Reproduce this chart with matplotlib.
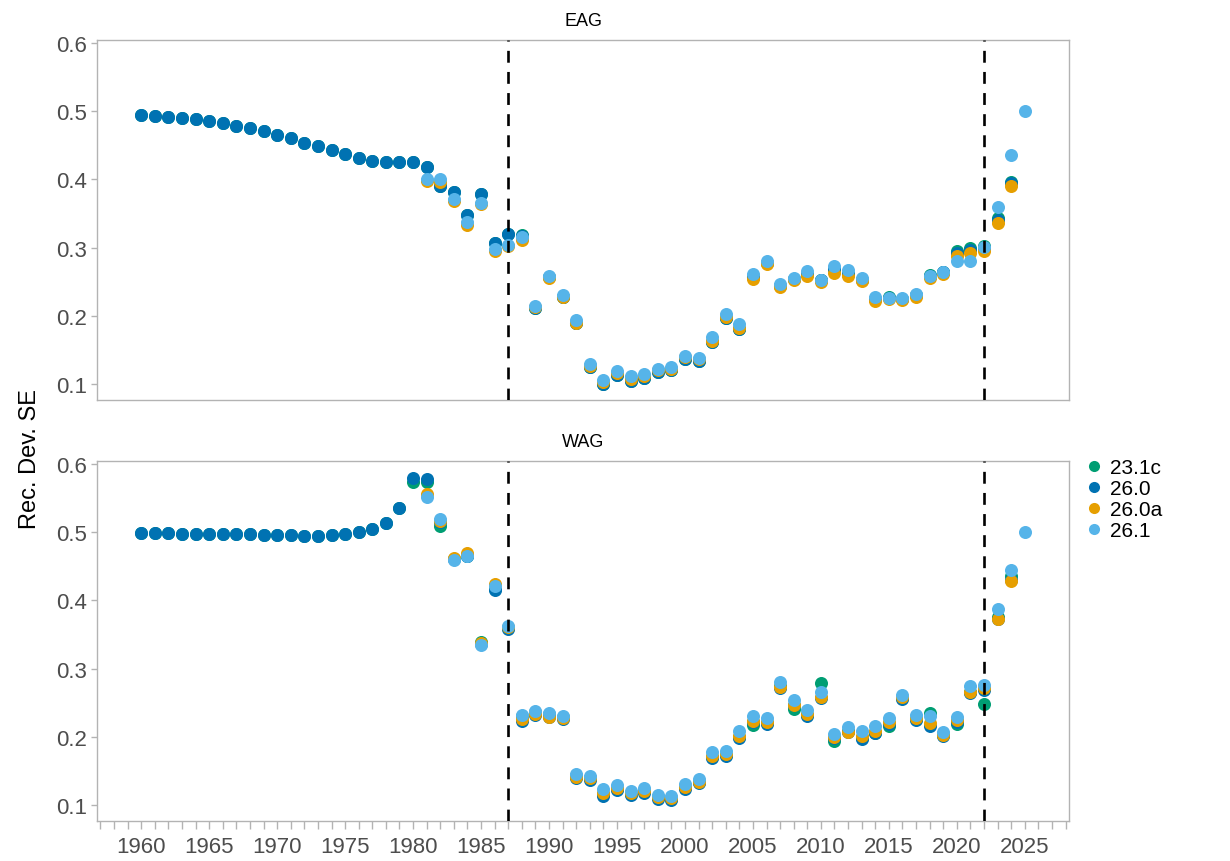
import numpy as np
import matplotlib
matplotlib.use("Agg")
import matplotlib.pyplot as plt
from matplotlib.lines import Line2D
from matplotlib.ticker import MultipleLocator

plt.rcParams['font.family'] = ['Liberation Sans', 'DejaVu Sans']

nan = np.nan
years = list(range(1960, 2026))

# ---------------- EAG ----------------
eag_early = [0.494, 0.493, 0.492, 0.4905, 0.488, 0.485, 0.482, 0.479, 0.475, 0.4705,
             0.465, 0.460, 0.454, 0.4485, 0.443, 0.437, 0.431, 0.4275, 0.425, 0.4255, 0.426]
# 1981 - 2025: 23.1c, 26.0, 26.0a, 26.1
eag_23_1c_late = [0.418, 0.391, 0.381, 0.348, 0.378, 0.307, 0.320, 0.3185, 0.212, 0.257,
                  0.228, 0.189, 0.125, 0.1005, 0.113, 0.105, 0.109, 0.1175, 0.120, 0.1366,
                  0.1335, 0.161, 0.1966, 0.180, 0.257, 0.278, 0.244, 0.254, 0.262, 0.252,
                  0.268, 0.262, 0.253, 0.224, 0.2275, 0.224, 0.230, 0.2595, 0.264, 0.2955,
                  0.299, 0.302, 0.343, 0.3958, nan]
eag_26_0_late = [0.418, 0.391, 0.381, 0.348, 0.378, 0.307, 0.320, 0.317, 0.2115, 0.257,
                 0.228, 0.189, 0.125, 0.1005, 0.113, 0.105, 0.109, 0.1175, 0.120, 0.1366,
                 0.1335, 0.161, 0.1966, 0.180, 0.257, 0.278, 0.244, 0.254, 0.262, 0.252,
                 0.268, 0.262, 0.253, 0.224, 0.226, 0.224, 0.230, 0.258, 0.264, 0.2925,
                 0.2965, 0.300, 0.341, 0.394, nan]
eag_26_0a_late = [0.398, 0.396, 0.368, 0.333, 0.364, 0.2955, 0.302, 0.3116, 0.2125, 0.256,
                  0.227, 0.190, 0.127, 0.103, 0.116, 0.108, 0.112, 0.120, 0.122, 0.139,
                  0.136, 0.163, 0.198, 0.1825, 0.254, 0.276, 0.2417, 0.253, 0.259, 0.250,
                  0.263, 0.258, 0.2515, 0.222, 0.224, 0.223, 0.2276, 0.256, 0.2615, 0.288,
                  0.292, 0.2955, 0.3356, 0.3908, nan]
eag_26_1_late = [0.400, 0.4006, 0.371, 0.337, 0.366, 0.298, 0.304, 0.315, 0.215, 0.259,
                 0.2305, 0.194, 0.1293, 0.1063, 0.1186, 0.111, 0.115, 0.122, 0.1245, 0.1415,
                 0.138, 0.1685, 0.2026, 0.188, 0.2613, 0.2808, 0.2466, 0.255, 0.2652, 0.253,
                 0.2735, 0.2676, 0.255, 0.2271, 0.226, 0.226, 0.232, 0.258, 0.2647, 0.2808,
                 0.2808, 0.3004, 0.360, 0.4358, 0.5007]

# ---------------- WAG ----------------
wag_early = [0.499, 0.499, 0.499, 0.498, 0.498, 0.498, 0.497, 0.497, 0.497, 0.496,
             0.496, 0.496, 0.495, 0.495, 0.496, 0.497, 0.500, 0.505, 0.514, 0.535]
# 1980 - 2025
wag_23_1c_late = [0.573, 0.573, 0.5095, 0.461, 0.465, 0.3394, 0.417, 0.360, 0.230, 0.236,
                  0.233, 0.229, 0.142, 0.139, 0.116, 0.124, 0.116, 0.120, 0.111, 0.109,
                  0.126, 0.134, 0.170, 0.174, 0.199, 0.2173, 0.220, 0.275, 0.2408, 0.232,
                  0.2785, 0.194, 0.208, 0.198, 0.205, 0.2163, 0.257, 0.226, 0.2349, 0.202,
                  0.2188, 0.265, 0.2481, 0.376, 0.4353, nan]
wag_26_0_late = [0.580, 0.578, 0.5145, 0.461, 0.465, 0.336, 0.4157, 0.358, 0.2236, 0.232,
                 0.229, 0.2255, 0.1393, 0.137, 0.1138, 0.1225, 0.114, 0.118, 0.109, 0.1075,
                 0.124, 0.132, 0.1685, 0.1725, 0.1977, 0.222, 0.2188, 0.272, 0.246, 0.231,
                 0.257, 0.198, 0.2066, 0.1968, 0.205, 0.219, 0.256, 0.2248, 0.2165, 0.201,
                 0.222, 0.264, 0.268, 0.373, 0.430, nan]
wag_26_0a_late = [nan, 0.556, 0.517, 0.462, 0.4695, 0.3375, 0.4245, 0.361, 0.226, 0.234,
                  0.229, 0.228, 0.141, 0.139, 0.117, 0.125, 0.117, 0.121, 0.112, 0.110,
                  0.127, 0.134, 0.172, 0.175, 0.2016, 0.2236, 0.2212, 0.2737, 0.247, 0.2335,
                  0.258, 0.199, 0.2067, 0.2007, 0.209, 0.221, 0.258, 0.228, 0.2198, 0.202,
                  0.224, 0.2653, 0.271, 0.3727, 0.428, nan]
wag_26_1_late = [nan, 0.552, 0.5194, 0.4597, 0.4656, 0.3346, 0.4206, 0.3629, 0.2324, 0.2383,
                 0.2349, 0.231, 0.1455, 0.143, 0.1235, 0.1298, 0.121, 0.125, 0.1151, 0.1137,
                 0.1308, 0.1381, 0.1773, 0.1797, 0.209, 0.231, 0.2271, 0.280, 0.254, 0.2398,
                 0.2653, 0.204, 0.2139, 0.209, 0.2163, 0.2271, 0.2613, 0.232, 0.230, 0.2066,
                 0.2286, 0.274, 0.2764, 0.3874, 0.445, 0.4999]

models = ['23.1c', '26.0', '26.0a', '26.1']
colors = ['#009E73', '#0072B2', '#E69F00', '#56B4E9']

eag = {
    '23.1c': eag_early + eag_23_1c_late,
    '26.0': eag_early + eag_26_0_late,
    '26.0a': [nan] * 21 + eag_26_0a_late,
    '26.1': [nan] * 21 + eag_26_1_late,
}
wag = {
    '23.1c': wag_early + wag_23_1c_late,
    '26.0': wag_early + wag_26_0_late,
    '26.0a': [nan] * 20 + wag_26_0a_late,
    '26.1': [nan] * 20 + wag_26_1_late,
}
panels = [('EAG', eag), ('WAG', wag)]
vlines = [1987, 2022]
xticks = list(range(1960, 2026, 5))
yticks = [0.1, 0.2, 0.3, 0.4, 0.5, 0.6]

W, H = 1230, 862
fig = plt.figure(figsize=(W / 100, H / 100), dpi=100)
boxes = [(97, 41.3, 1069, 401), (97, 462.3, 1069, 822)]
axes = []
grey = '#4D4D4D'
border = '#B3B3B3'
for (name, data), (x0, y0, x1, y1) in zip(panels, boxes):
    ax = fig.add_axes([x0 / W, 1 - y1 / H, (x1 - x0) / W, (y1 - y0) / H])
    axes.append(ax)
    for m, c in zip(models, colors):
        ax.scatter(years, data[m], s=88, color=c, linewidths=0, zorder=3)
    for v in vlines:
        ax.axvline(v, color='black', linestyle=(0, (4.5, 3.5)), linewidth=1.9, zorder=4)
    ax.set_xlim(1956.75, 2028.25)
    ax.set_ylim(0.0765, 0.604)
    ax.set_yticks(yticks)
    ax.set_yticklabels([f'{t:.1f}' for t in yticks])
    ax.set_title(name, fontsize=13, pad=11, color='black')
    for s in ax.spines.values():
        s.set_color(border)
        s.set_linewidth(1.0)
    ax.tick_params(axis='y', colors=border, labelcolor=grey, labelsize=16, length=4, width=1,
                   pad=3)
    ax.set_xticks(xticks)
    ax.xaxis.set_minor_locator(MultipleLocator(1))

axes[0].tick_params(axis='x', which='both', bottom=False, labelbottom=False)
axes[1].tick_params(axis='x', which='major', colors=border, labelcolor=grey, labelsize=16,
                    length=6, width=1, pad=5)
axes[1].tick_params(axis='x', which='minor', colors=border, length=6, width=1)

fig.text(30 / W, 1 - 459 / H, 'Rec. Dev. SE', rotation=90, ha='center', va='center',
         fontsize=17, color='black')

handles = [Line2D([0], [0], marker='o', linestyle='', markersize=8, markerfacecolor=c,
                  markeredgewidth=0) for c in colors]
fig.legend(handles, models, loc='center left', bbox_to_anchor=(1067 / W, 1 - 500 / H),
           frameon=False, fontsize=15, handletextpad=0.15, labelspacing=0.1,
           handlelength=1.2, borderpad=0.2)

fig.savefig('out.png', dpi=100)
